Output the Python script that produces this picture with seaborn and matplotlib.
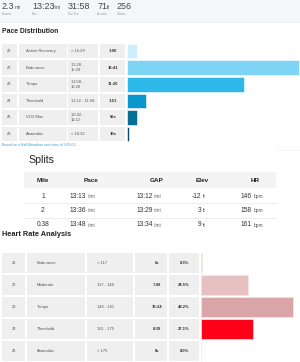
import matplotlib
matplotlib.use("Agg")
import matplotlib.pyplot as plt
import seaborn as sns
import pandas as pd
from matplotlib.patches import Rectangle

sns.set_theme(style="white")
plt.rcParams['font.family'] = ['Liberation Sans', 'DejaVu Sans']

# ---------------- data ----------------
summary_values = ['2.3', '13:23', '31:58', '71', '256']
summary_units = ['mi', '/mi', '', 'ft', '']
summary_labels = ['Distance', 'Pace', 'Run Time', 'Elevation', 'Calories']

pace_zones = ['Z1', 'Z2', 'Z3', 'Z4', 'Z5', 'Z6']
pace_names = ['Active Recovery', 'Endurance', 'Tempo', 'Threshold', 'VO2 Max', 'Anaerobic']
pace_ranges = ['> 15:29', '13:20 -\n15:29', '11:58 -\n13:20', '11:12 - 11:58', '10:32 -\n11:12', '< 10:32']
pace_time_labels = ['1:00', '16:41', '11:20', '1:51', '56s', '10s']
pace_seconds = [60, 1001, 680, 111, 56, 10]
pace_colors = ['#cdeefb', '#7dd4f4', '#2cb9ea', '#0c97cc', '#076f95', '#0b4d68']

split_miles = ['1', '2', '0.38']
split_pace = ['13:13', '13:36', '13:48']
split_gap = ['13:12', '13:29', '13:34']
split_elev = ['-12', '3', '9']
split_hr = ['146', '158', '161']

hr_zones = ['Z1', 'Z2', 'Z3', 'Z4', 'Z5']
hr_names = ['Endurance', 'Moderate', 'Tempo', 'Threshold', 'Anaerobic']
hr_ranges = ['< 117', '117 - 146', '146 - 161', '161 - 175', '> 175']
hr_time_labels = ['6s', '7:49', '15:24', '8:39', '0s']
hr_pct = [0.3, 24.5, 48.2, 27.1, 0.0]
hr_colors = ['#f0d6d6', '#e7c0c1', '#d9a5a7', '#ff0019', '#f0d6d6']

# ---------------- figure ----------------
W, H = 300, 362
fig = plt.figure(figsize=(W / 100, H / 100), dpi=100)
fig.patch.set_facecolor('white')
ax = fig.add_axes([0, 0, 1, 1])
ax.set_xlim(0, W)
ax.set_ylim(H, 0)
ax.axis('off')

TXT = '#333333'
CELL = '#efefef'

# summary bar
ax.add_patch(Rectangle((0, 0), W, 21.5, facecolor='#f5f6f8', edgecolor='none'))
ax.plot([0, W], [21.8, 21.8], color='#ebedf0', lw=0.6)
sx = [2, 32, 68, 97, 117]
for x, v, l in zip(sx, summary_values, summary_labels):
    ax.text(x, 8.6, v, fontsize=6.4, color='#444444', va='baseline', ha='left')
    ax.text(x, 14.3, l, fontsize=1.9, color='#9a9a9a', va='center', ha='left')
unit_x = [14.3, 53.3, None, 107.3, None]
for ux, u in zip(unit_x, summary_units):
    if u:
        ax.text(ux, 8.6, u, fontsize=3.9, color='#555555', va='baseline', ha='left')

# Pace Distribution
ax.text(2, 31.5, 'Pace Distribution', fontsize=4.9, fontweight='bold', color='#222222', va='center')
pitch, rh, top0 = 16.6, 14.5, 43.8
for i in range(6):
    y = top0 + i * pitch
    for (x0, x1) in [(2, 17), (19, 66.7), (68.3, 98.3), (100, 125)]:
        ax.add_patch(Rectangle((x0, y), x1 - x0, rh, facecolor=CELL, edgecolor='none'))
    yc = y + rh / 2
    ax.text(9.5, yc, pace_zones[i], fontsize=2.7, color='#555555', ha='center', va='center')
    ax.text(26, yc, pace_names[i], fontsize=3.0, color='#555555', ha='left', va='center')
    ax.text(71, yc, pace_ranges[i], fontsize=3.0, color='#555555', ha='left', va='center', linespacing=1.3)
    ax.text(113, yc, pace_time_labels[i], fontsize=3.0, color='#333333', ha='center', va='center', fontweight='bold')

pace_df = pd.DataFrame({'zone': pace_zones, 'seconds': pace_seconds})
ax_p = fig.add_axes([127 / W, 1 - (top0 - (pitch - rh) / 2 + 6 * pitch) / H, 173 / W, 6 * pitch / H])
sns.barplot(data=pace_df, x='seconds', y='zone', hue='zone', palette=pace_colors, legend=False,
            orient='h', width=rh / pitch, ax=ax_p, edgecolor='#ffffff', linewidth=0.4, saturation=1)
ax_p.set_xlim(0, 1001 * 173 / 172)
ax_p.set_ylim(5.5, -0.5)
ax_p.axis('off')

ax.text(2, 145, 'Based on a Half-Marathon race time of 3:05:00', fontsize=2.5, color='#3a9fd8', va='center')

# Splits
ax.text(28, 160, 'Splits', fontsize=7.6, color='#222222', va='center')
ax.add_patch(Rectangle((24, 172), 252, 16, facecolor='#f4f4f4', edgecolor='none'))
col_c = [43, 91, 157, 202, 255]
for c, h in zip(col_c, ['Mile', 'Pace', 'GAP', 'Elev', 'HR']):
    ax.text(c, 180.2, h, fontsize=4.6, fontweight='bold', color='#222222', ha='center', va='center')
row_y = [196, 210.5, 225]
for yy in [203.3, 217.8]:
    ax.plot([24, 276], [yy, yy], color='#e6e6e6', lw=0.5)
for i in range(3):
    y = row_y[i]
    ax.text(43, y, split_miles[i], fontsize=4.8, color=TXT, ha='center', va='center')
    ax.text(86, y, split_pace[i], fontsize=4.8, color=TXT, ha='right', va='center')
    ax.text(87.5, y + 0.3, '/mi', fontsize=3.5, color='#555555', ha='left', va='center')
    ax.text(153, y, split_gap[i], fontsize=4.8, color=TXT, ha='right', va='center')
    ax.text(154.5, y + 0.3, '/mi', fontsize=3.5, color='#555555', ha='left', va='center')
    ax.text(201, y, split_elev[i], fontsize=4.8, color=TXT, ha='right', va='center')
    ax.text(202.5, y + 0.3, 'ft', fontsize=3.5, color='#555555', ha='left', va='center')
    ax.text(252, y, split_hr[i], fontsize=4.8, color=TXT, ha='right', va='center')
    ax.text(253.5, y + 0.3, 'bpm', fontsize=3.5, color='#555555', ha='left', va='center')
ax.plot([277, 300], [150, 150], color='#f0f0f0', lw=0.5)

# Heart Rate Analysis
ax.text(2, 235, 'Heart Rate Analysis', fontsize=5.3, fontweight='bold', color='#222222', va='center')
hp, hh, htop = 22, 20, 253
for i in range(5):
    y = htop + i * hp
    for (x0, x1) in [(2, 25), (27, 85), (87, 133), (135, 167), (169, 199)]:
        ax.add_patch(Rectangle((x0, y), x1 - x0, hh, facecolor=CELL, edgecolor='none'))
    yc = y + hh / 2
    ax.text(14, yc, hr_zones[i], fontsize=2.7, color='#555555', ha='center', va='center')
    ax.text(37, yc, hr_names[i], fontsize=3.0, color='#555555', ha='left', va='center')
    ax.text(97, yc, hr_ranges[i], fontsize=3.0, color='#555555', ha='left', va='center')
    ax.text(157, yc, hr_time_labels[i], fontsize=3.0, color='#333333', ha='center', va='center', fontweight='bold')
    ax.text(184, yc, f'{hr_pct[i]:.1f}%', fontsize=3.0, color='#333333', ha='center', va='center', fontweight='bold')

hr_df = pd.DataFrame({'zone': hr_zones, 'pct': hr_pct})
ax_h = fig.add_axes([201 / W, 1 - (htop - 1 + 5 * hp) / H, 99 / W, 5 * hp / H])
sns.barplot(data=hr_df, x='pct', y='zone', hue='zone', palette=hr_colors, legend=False,
            orient='h', width=hh / hp, ax=ax_h, edgecolor='#f6e6e6', linewidth=0.5, saturation=1)
ax_h.set_xlim(0, 99 / 1.91)
ax_h.set_ylim(4.5, -0.5)
ax_h.axis('off')

fig.savefig('out.png', dpi=100, facecolor='white')
